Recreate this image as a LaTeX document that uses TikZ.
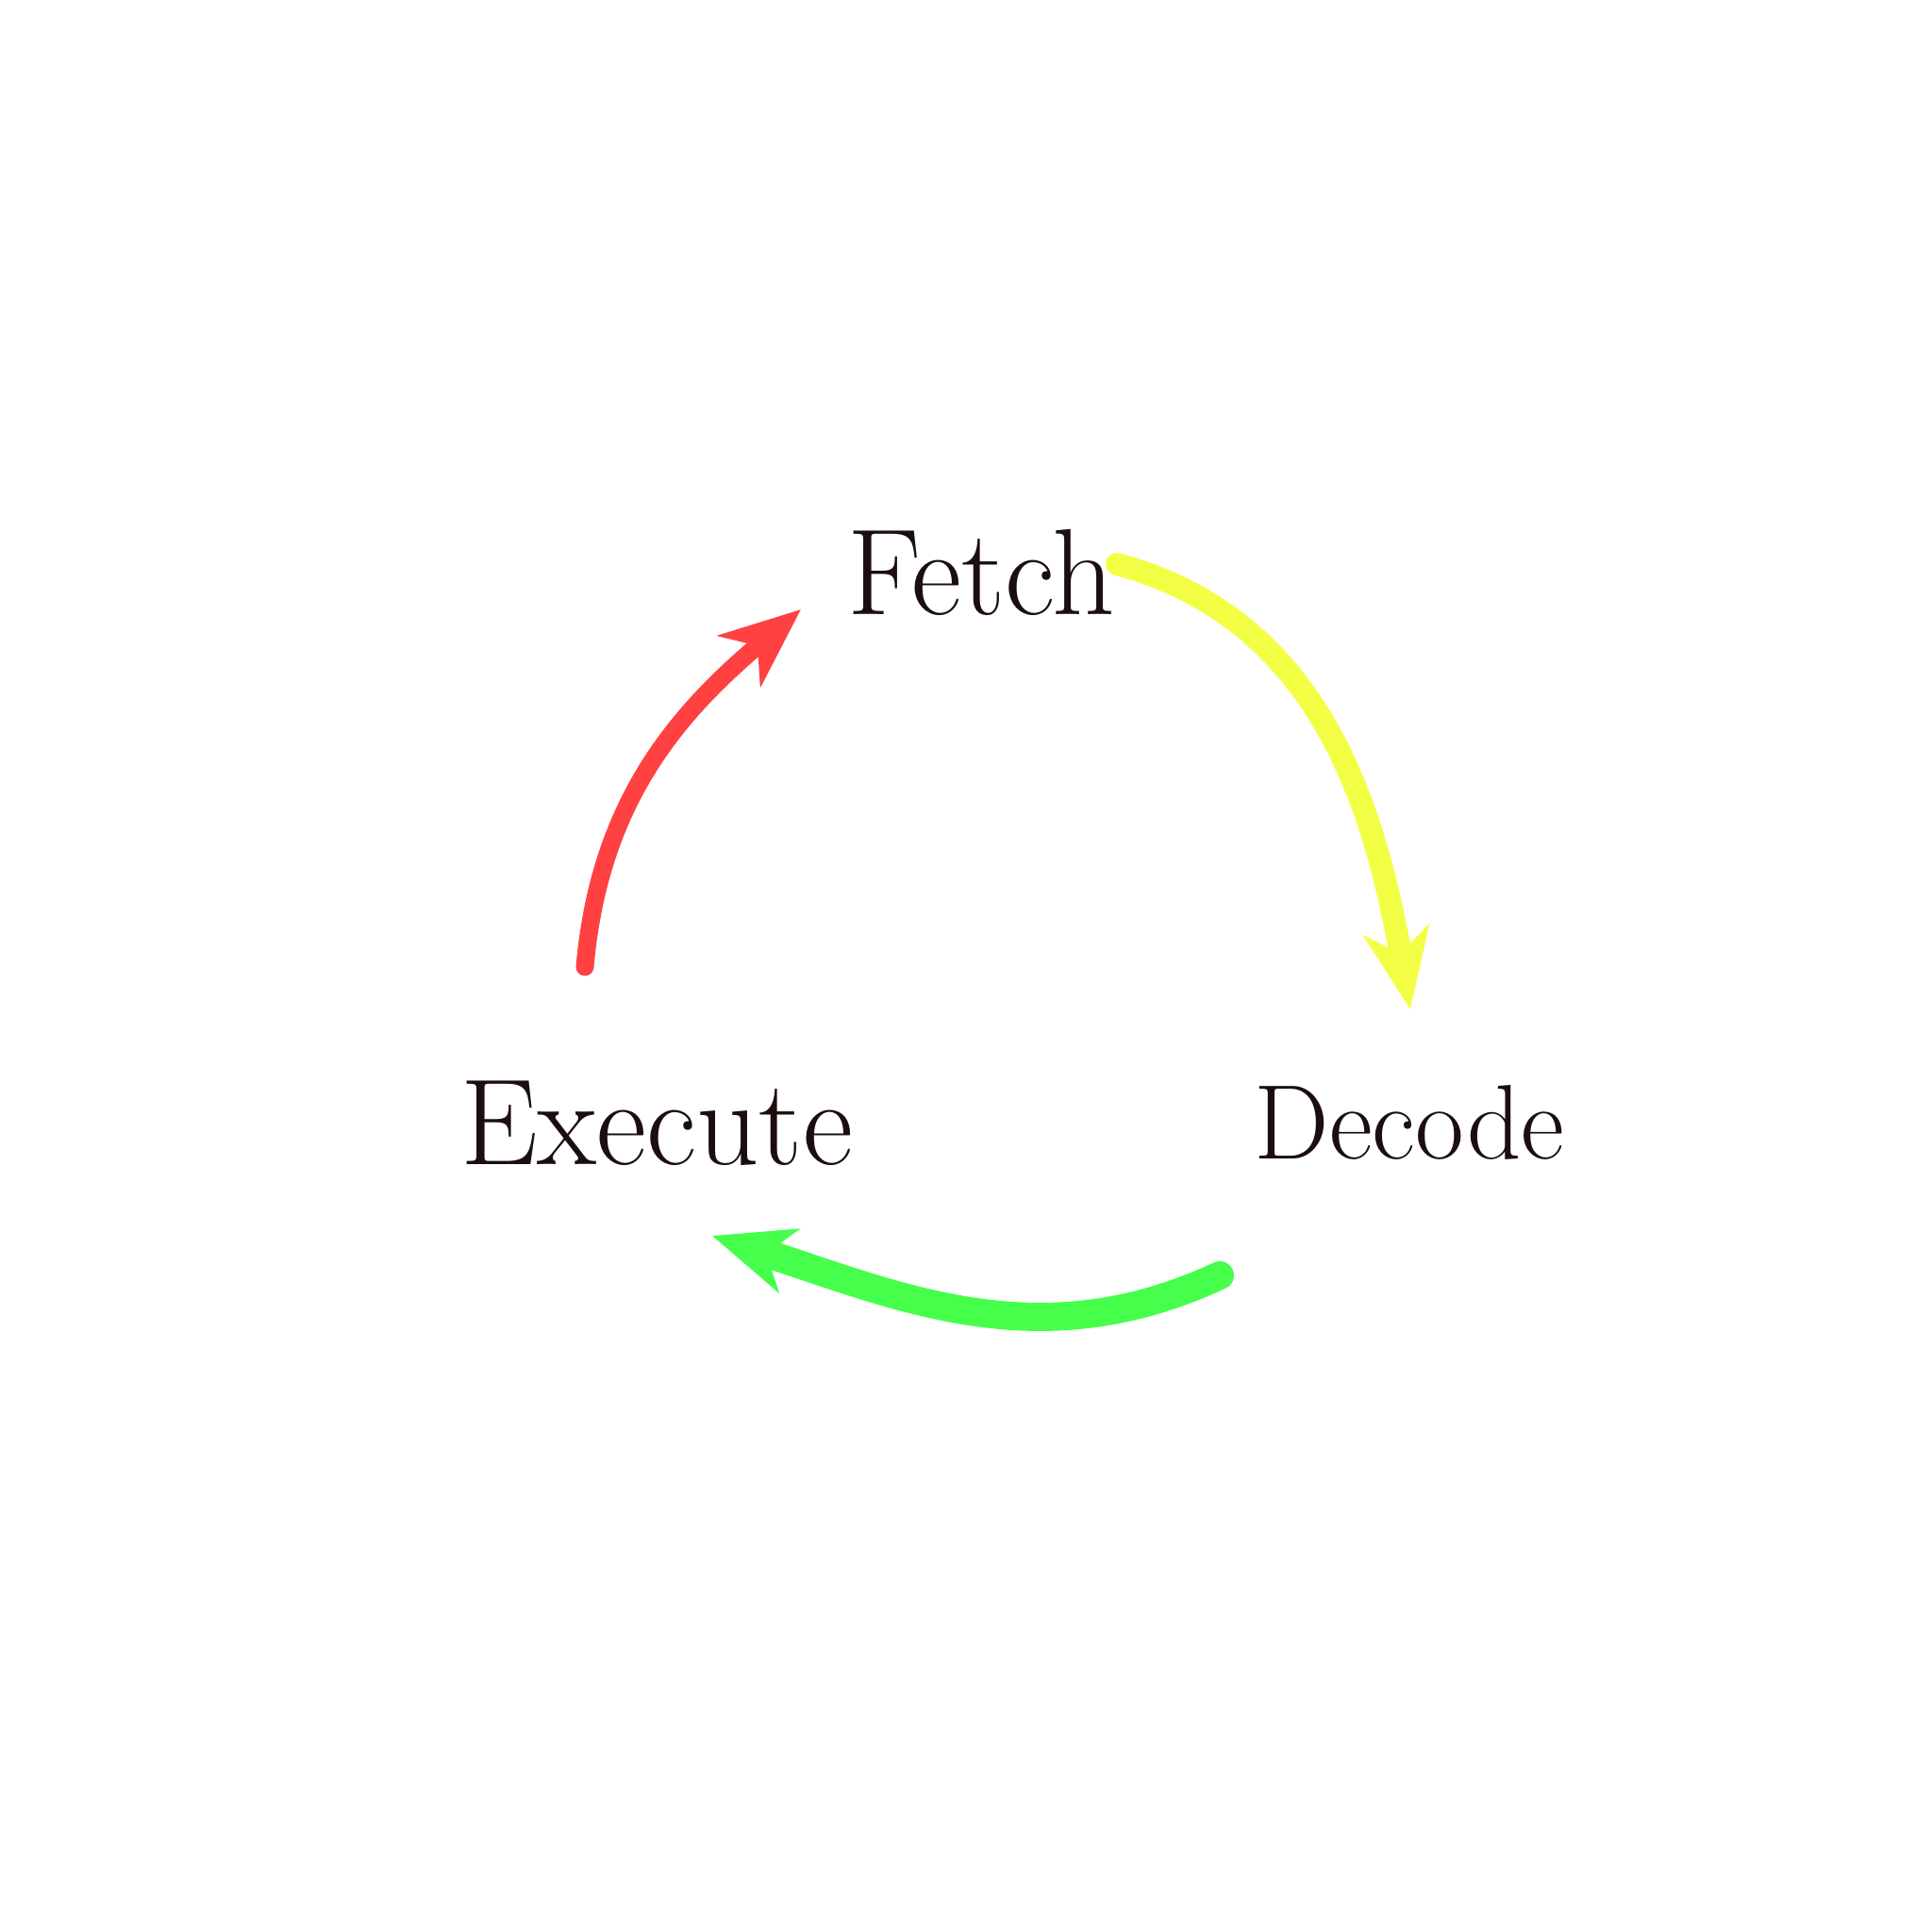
\documentclass[tikz,border=0pt]{standalone}
\usetikzlibrary{arrows.meta}

\definecolor{inkdark}{HTML}{1C0E0E}
\definecolor{fetchred}{HTML}{FF4141}
\definecolor{decodeyellow}{HTML}{F2FF45}
\definecolor{executegreen}{HTML}{45FF4B}

\begin{document}
\begin{tikzpicture}[
    stage/.style={text=inkdark, font=\fontsize{#1}{40}\selectfont, inner sep=2pt},
    stage/.default=32,
    cycle/.style={line width=#1, line cap=round, -{Stealth[length=0.85cm, width=0.7cm, inset=0.25cm]}}
]
\fill[white] (0,0) rectangle (20.48,20.48);
\useasboundingbox (0,0) rectangle (20.48,20.48);

\node[stage=37] (fetch) at (10.40,14.41) {Fetch};
\node[stage] (decode) at (14.94,8.58) {Decode};
\node[stage=37] (execute) at (6.96,8.57) {Execute};

% arrow ends
\coordinate (fetch-out) at (11.84,14.50);
\coordinate (decode-in) at (14.95,9.78);
\coordinate (decode-out) at (12.93,6.96);
\coordinate (execute-in) at (7.55,7.38);
\coordinate (execute-out) at (6.20,10.23);
\coordinate (fetch-in) at (8.49,14.02);

\draw[cycle=0.24cm, decodeyellow] (fetch-out) to[out=-15, in=100] (decode-in);
\draw[cycle=0.3cm, executegreen] (decode-out) to[out=205, in=-18] (execute-in);
\draw[cycle=0.19cm, fetchred] (execute-out) to[out=85, in=220] (fetch-in);
\end{tikzpicture}
\end{document}
